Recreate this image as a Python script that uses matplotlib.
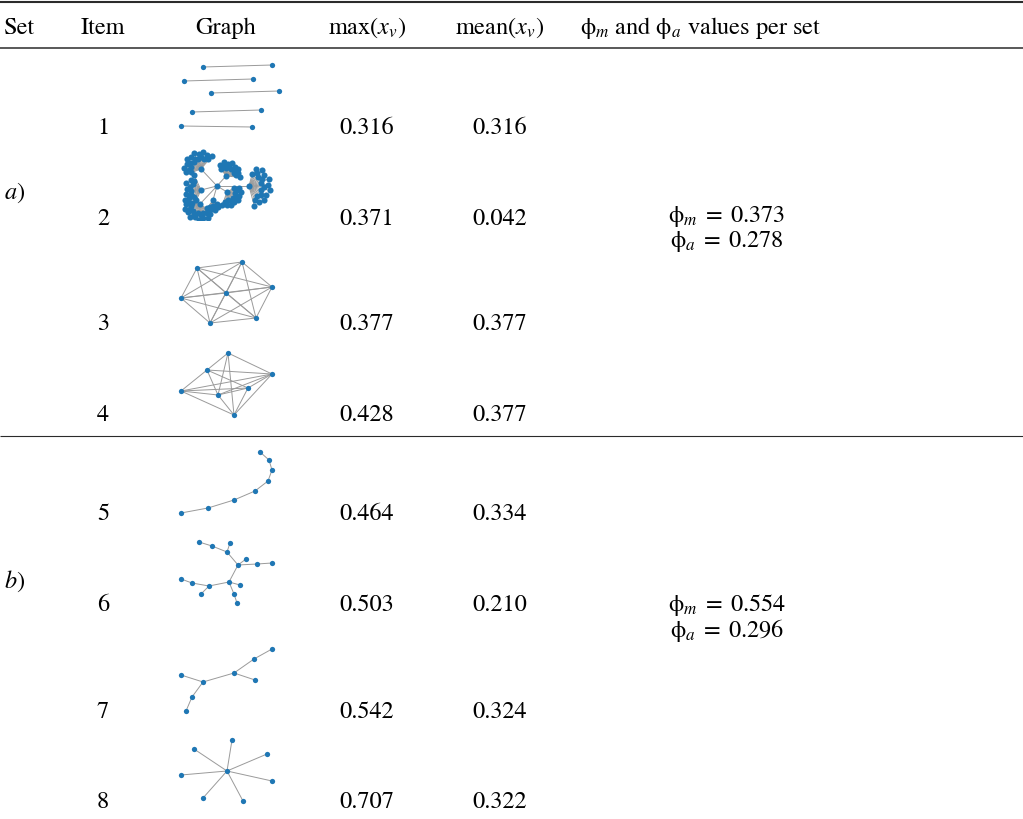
import numpy as np
import matplotlib
matplotlib.use("Agg")
import matplotlib.pyplot as plt

plt.rcParams["font.family"] = ["STIXGeneral", "DejaVu Serif"]
plt.rcParams["mathtext.fontset"] = "stix"

# ---------------------------------------------------------------- table data
headers = ["Set", "Item", "Graph", r"max$(x_v)$", r"mean$(x_v)$",
           r"$\mathrm{\phi}_m$ and $\mathrm{\phi}_a$ values per set"]
set_labels = [r"$a$)", r"$b$)"]
items = [1, 2, 3, 4, 5, 6, 7, 8]
max_xv = [0.316, 0.371, 0.377, 0.428, 0.464, 0.503, 0.542, 0.707]
mean_xv = [0.316, 0.042, 0.377, 0.377, 0.334, 0.210, 0.324, 0.322]
phi_m = [0.373, 0.554]
phi_a = [0.278, 0.296]

# ---------------------------------------------------------------- graph layouts
# node positions in drawing units (x right, y down), edges as index pairs
g1_nodes = [(31, 7), (100, 5), (12, 21), (81, 19), (39, 33), (107, 31),
            (20, 52), (89, 50), (9, 66), (80, 67)]
g1_edges = [(0, 1), (2, 3), (4, 5), (6, 7), (8, 9)]

# graph 2: a centre joined to hubs, each hub carrying a fan of leaves
g2_centre = (45, 38)
g2_hubs = [(29, 21), (54, 28), (77, 38), (29, 42), (55, 44), (28, 56), (41, 52)]
g2_leaf_counts = [20, 16, 20, 14, 16, 20, 8]
g2_fan_dir = [125, 60, 0, 180, -40, -115, -85]
g2_fan_spread = [150, 130, 150, 130, 140, 160, 80]
g2_fan_radius = [17, 14, 21, 16, 14, 16, 10]

g3_nodes = [(25, 10), (70, 4), (100, 29), (9, 40), (54, 35), (38, 65), (84, 60)]
g3_edges = [(i, j) for i in range(7) for j in range(i + 1, 7)]

g4_nodes = [(56, 5), (35, 22), (100, 26), (9, 43), (46, 47), (76, 40), (62, 67)]
g4_edges = [(0, 1), (0, 2), (0, 4), (0, 6), (1, 3), (1, 2), (1, 5), (1, 4),
            (3, 2), (3, 5), (3, 4), (3, 6), (4, 5), (4, 2), (5, 2), (5, 6),
            (2, 6), (4, 6)]

g5_nodes = [(88, 4), (97, 12), (100, 22), (96, 33), (83, 43), (62, 52),
            (36, 60), (9, 65)]
g5_edges = [(i, i + 1) for i in range(7)]

g6_nodes = [(27, 4), (40, 8), (58, 5), (55, 14), (66, 27), (74, 21), (85, 26),
            (100, 25), (9, 41), (20, 45), (37, 48), (57, 44), (68, 47),
            (29, 56), (62, 56), (65, 65)]
g6_edges = [(0, 1), (1, 3), (2, 3), (3, 4), (4, 5), (4, 6), (6, 7), (4, 11),
            (11, 10), (10, 9), (9, 8), (10, 13), (11, 12), (11, 14), (14, 15)]

g7_nodes = [(100, 4), (82, 14), (62, 28), (83, 35), (31, 37), (9, 30),
            (20, 52), (14, 66)]
g7_edges = [(0, 1), (1, 2), (2, 3), (2, 4), (4, 5), (4, 6), (6, 7)]

g8_nodes = [(55, 36), (60, 5), (22, 14), (95, 19), (9, 40), (100, 46),
            (31, 63), (71, 66)]
g8_edges = [(0, k) for k in range(1, 8)]


def build_graph2():
    nodes = [g2_centre] + list(g2_hubs)
    edges = [(0, k + 1) for k in range(len(g2_hubs))]
    ring = [1.0, 0.72, 0.9, 0.6]
    for h, (hx, hy) in enumerate(g2_hubs):
        n = g2_leaf_counts[h]
        angs = np.radians(np.linspace(g2_fan_dir[h] - g2_fan_spread[h] / 2,
                                      g2_fan_dir[h] + g2_fan_spread[h] / 2, n))
        for k, a in enumerate(angs):
            r = g2_fan_radius[h] * ring[k % len(ring)]
            nodes.append((hx + r * np.cos(a), hy - r * np.sin(a)))
            edges.append((h + 1, len(nodes) - 1))
    return nodes, edges


g2_nodes, g2_edges = build_graph2()

graphs = [(g1_nodes, g1_edges), (g2_nodes, g2_edges), (g3_nodes, g3_edges),
          (g4_nodes, g4_edges), (g5_nodes, g5_edges), (g6_nodes, g6_edges),
          (g7_nodes, g7_edges), (g8_nodes, g8_edges)]
graph_ms = [3.8, 4.4, 3.8, 3.8, 3.8, 3.8, 3.8, 3.8]

# ---------------------------------------------------------------- layout (px)
W, H = 1023, 819
fig = plt.figure(figsize=(W / 100, H / 100), dpi=100)
ax = fig.add_axes([0, 0, 1, 1])
ax.set_xlim(0, W)
ax.set_ylim(H, 0)
ax.axis("off")

fs = 17.5
rule_c = "#2b2b2b"
ax.plot([0, W], [2, 2], color=rule_c, lw=1.5, solid_capstyle="butt")
ax.plot([0, W], [48, 48], color=rule_c, lw=1.1, solid_capstyle="butt")
ax.plot([0, W], [436, 436], color=rule_c, lw=0.8, solid_capstyle="butt")

header_x = [4, 103, 226, 367, 500, 580]
header_ha = ["left", "center", "center", "center", "center", "left"]
for txt, x, ha in zip(headers, header_x, header_ha):
    ax.text(x, 34, txt, fontsize=fs, ha=ha, va="baseline")

row_baselines = [134, 225, 330, 421, 520, 611, 718, 808]
graph_tops = [60, 148, 258, 348, 448, 538, 645, 735]
for i in range(8):
    yb = row_baselines[i]
    ax.text(103, yb, str(items[i]), fontsize=fs, ha="center", va="baseline")
    ax.text(367, yb, f"{max_xv[i]:.3f}", fontsize=fs, ha="center", va="baseline")
    ax.text(500, yb, f"{mean_xv[i]:.3f}", fontsize=fs, ha="center", va="baseline")

set_baselines = [199, 588]
phi_centres = [229, 618]
for s in range(2):
    ax.text(4, set_baselines[s], set_labels[s], fontsize=fs, ha="left", va="baseline")
    block = (rf"$\mathrm{{\phi}}_m\;=\;{phi_m[s]:.3f}$" + "\n" +
             rf"$\mathrm{{\phi}}_a\;=\;{phi_a[s]:.3f}$")
    ax.text(727, phi_centres[s], block, fontsize=fs, ha="center", va="center",
            multialignment="center", linespacing=1.0)

# ---------------------------------------------------------------- graphs
gx0, gw, gh = 172, 112, 72
node_c = "#1f77b4"
edge_c = "#9a9a9a"
for (nodes, edges), top, ms in zip(graphs, graph_tops, graph_ms):
    gax = fig.add_axes([gx0 / W, 1 - (top + gh) / H, gw / W, gh / H])
    gax.set_xlim(0, gw)
    gax.set_ylim(gh, 0)
    gax.axis("off")
    pts = np.array(nodes, dtype=float)
    for a, b in edges:
        gax.plot(pts[[a, b], 0], pts[[a, b], 1], color=edge_c, lw=0.7, zorder=1)
    gax.plot(pts[:, 0], pts[:, 1], "o", color=node_c, ms=ms, mew=0, zorder=2)

fig.savefig("out.png", dpi=100)
